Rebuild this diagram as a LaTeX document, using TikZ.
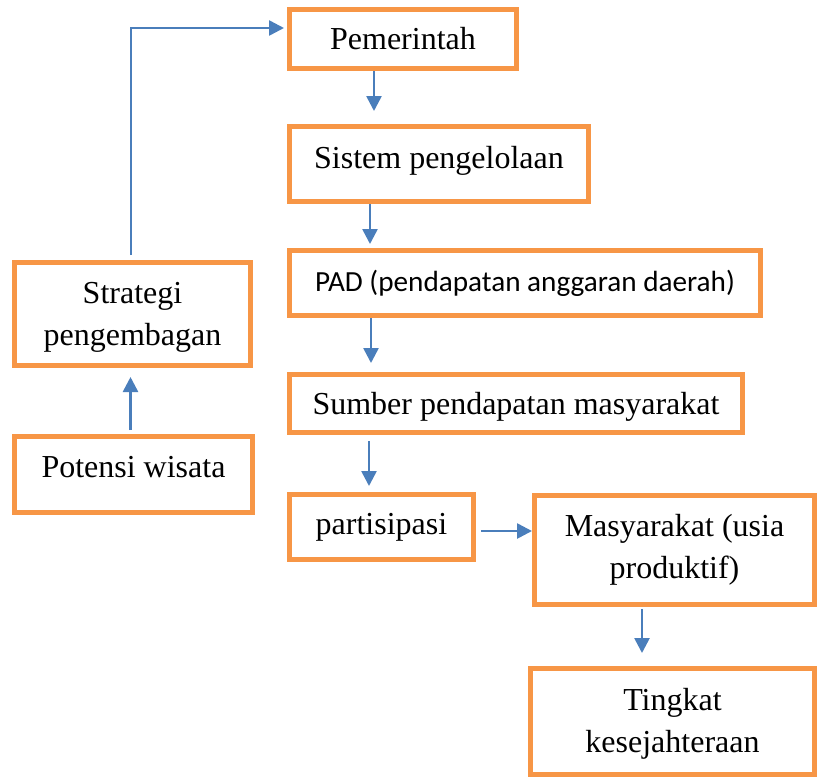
\documentclass[tikz,border=0pt]{standalone}
\usepackage{fontspec}
\setmainfont{Liberation Serif}
\newfontfamily\calibri{Carlito}
\usepackage{tikz}
\usetikzlibrary{arrows.meta}
\definecolor{boxorange}{HTML}{F79646}
\definecolor{flowblue}{HTML}{4A7EBB}

\begin{document}
\begin{tikzpicture}[x=0.5pt, y=-0.5pt,
  box/.style={draw=boxorange, line width=2.4pt, inner sep=0pt, align=center,
    font=\fontsize{16}{21}\selectfont},
  flow/.style={draw=flowblue, line width=1.3pt, -{Triangle[length=7.5pt,width=7.5pt]}}]
\useasboundingbox (0,0) rectangle (819,778);
% main column
\node[box, minimum width=113.6pt, minimum height=29.6pt] (pem) at (403,39) {Pemerintah};
\node[box, minimum width=149.6pt, minimum height=37.6pt, text depth=7pt] (sis) at (439,164) {Sistem pengelolaan};
\node[box, minimum width=235.6pt, minimum height=32.6pt, font=\calibri\fontsize{14.6}{18}\selectfont] (pad) at (525,283) {PAD (pendapatan anggaran daerah)};
\node[box, minimum width=226.6pt, minimum height=29.1pt, text depth=0pt] (sum) at (516,403.5) {Sumber pendapatan masyarakat};
\node[box, minimum width=92.1pt, minimum height=32.6pt] (par) at (381.5,527) {partisipasi};
\node[box, minimum width=140.1pt, minimum height=54.6pt] (mas) at (674.5,550) {Masyarakat (usia\\produktif)};
\node[box, minimum width=142.1pt, minimum height=53.1pt, text depth=1.5pt] (tin) at (672.5,721.5) {Tingkat\\kesejahteraan};
% left column
\node[box, minimum width=118.1pt, minimum height=51.6pt, text depth=0pt] (str) at (132.5,314) {Strategi\\pengembagan};
\node[box, minimum width=119.1pt, minimum height=38.1pt, text depth=8pt] (pot) at (133.5,474.5) {Potensi wisata};

\draw[flow, shorten >=6.5pt] ([xshift=-14.5pt]pem.south) -- ([xshift=-14.5pt]pem.south |- sis.north);
\draw[flow, shorten >=2pt] ([xshift=-34.5pt]sis.south) -- ([xshift=-34.5pt]sis.south |- pad.north);
\draw[flow, shorten >=4.5pt] ([xshift=-77pt]pad.south) -- ([xshift=-77pt]pad.south |- sum.north);
\draw[flow, shorten <=3pt, shorten >=3pt] ([xshift=-73.5pt]sum.south) -- ([xshift=-73.5pt]sum.south |- par.north);
\draw[flow, shorten <=2.5pt] ([yshift=-2pt]par.east) -- ([yshift=-2pt]par.east -| mas.west);
\draw[flow, shorten <=1pt, shorten >=6.5pt] ([xshift=-16.25pt]mas.south) -- ([xshift=-16.25pt]mas.south |- tin.north);
\draw[flow, shorten <=2pt, shorten >=4.5pt] ([xshift=-1.5pt]pot.north) -- ([xshift=-1.5pt]pot.north |- str.south);
\draw[flow, shorten <=2.5pt, shorten >=1.5pt] ([xshift=-0.75pt]str.north) |- ([yshift=5.5pt]pem.west);
\end{tikzpicture}
\end{document}
